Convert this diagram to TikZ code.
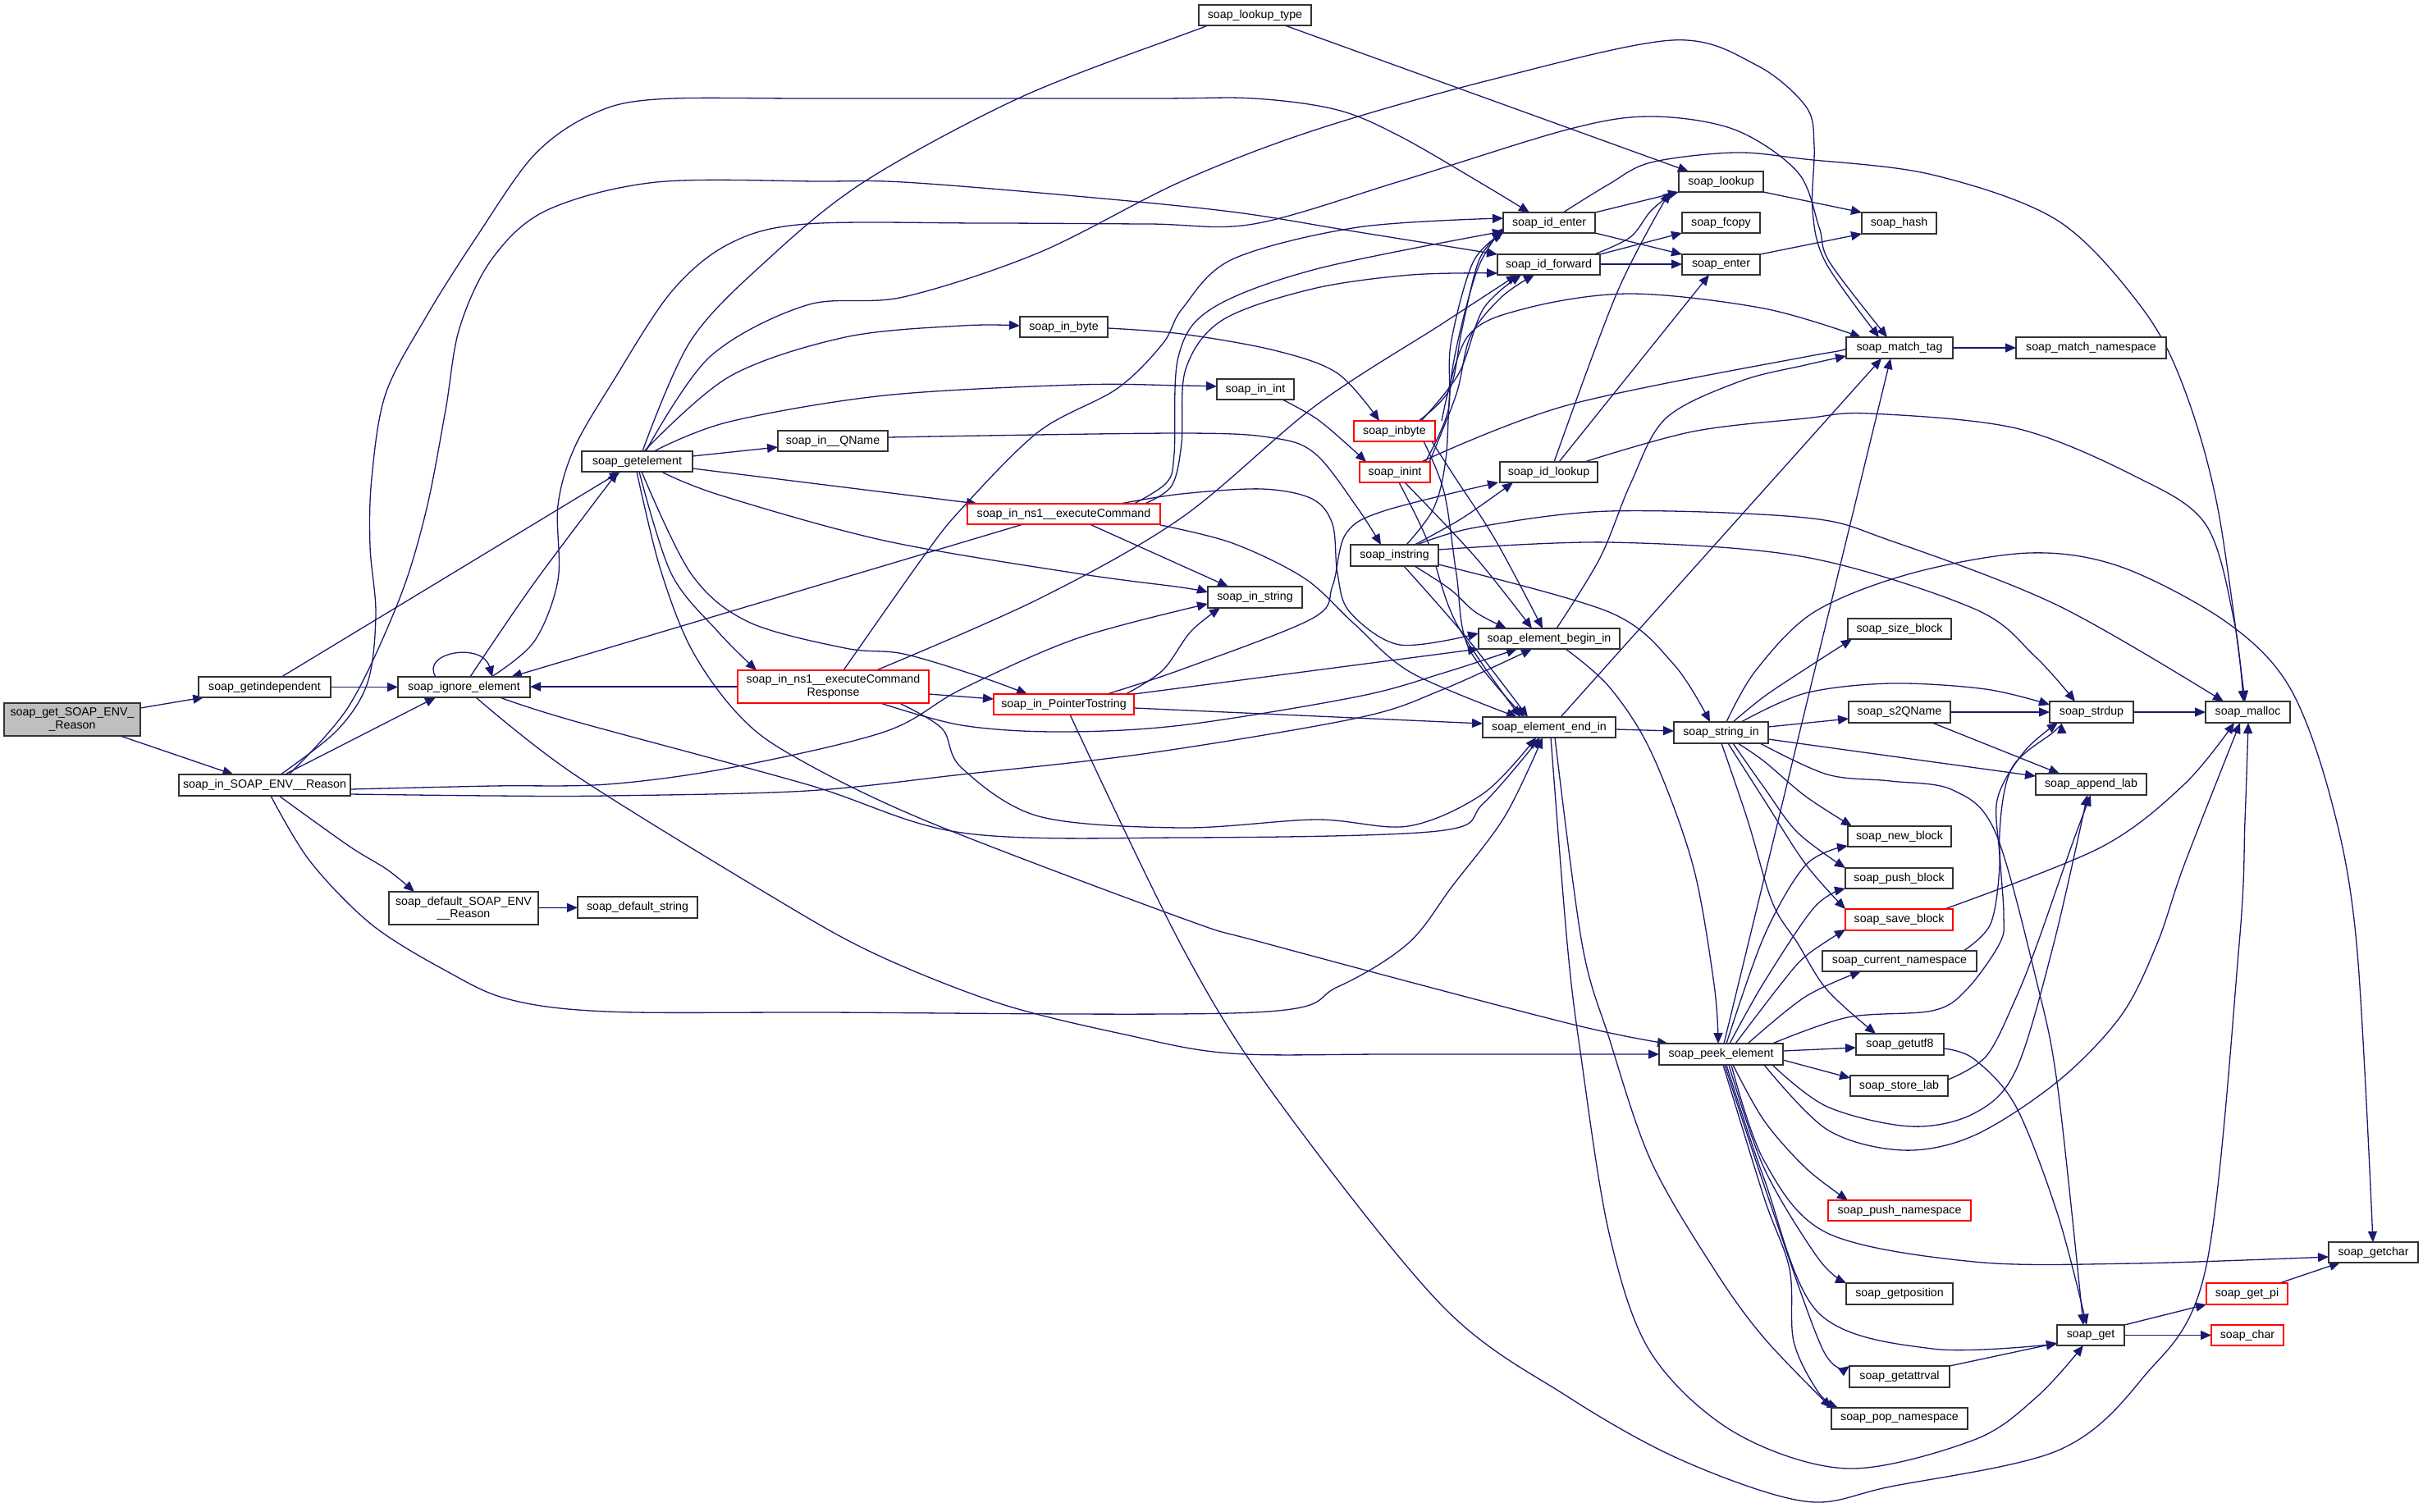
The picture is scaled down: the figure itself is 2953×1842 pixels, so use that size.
\documentclass[tikz,border=0pt]{standalone}
\usepackage{fontspec}
\setmainfont{Liberation Sans}
\usetikzlibrary{arrows.meta}
\definecolor{ec}{HTML}{191970}
\definecolor{nb}{HTML}{333333}
\definecolor{rb}{HTML}{FF0000}
\definecolor{gf}{HTML}{BFBFBF}
\pgfdeclarelayer{edges}
\pgfsetlayers{edges,main}
\newcommand\fs{\fontsize{7.1pt}{7.7pt}\selectfont}
\newcommand\fnode[7]{\node[fn,#2,minimum width={(#5-#3)*0.5pt},minimum height={(#6-#4)*0.5pt}] (#1) at ({(#3+#5)/2},{(#4+#6)/2}) {#7};}
\newcommand\ed[1]{\draw[e] plot[smooth,tension=0.55] coordinates {#1};}
\begin{document}
\begin{tikzpicture}[x=0.5pt,y=-0.5pt,
  fn/.style={draw=nb, fill=white, line width=0.8pt, inner sep=0pt, outer sep=0pt, font=\fs, align=center, text=black},
  rn/.style={draw=rb},
  gn/.style={fill=gf},
  pl/.style={},
  e/.style={draw=ec, line width=0.65pt, line join=round, -{Triangle[length=6.5pt,width=5.5pt]}}]
\useasboundingbox (0,0) rectangle (2953,1842);
% ---------------- nodes ----------------
\fnode{gse}{gn}{5}{857}{171}{897}{soap\_get\_SOAP\_ENV\_\\\_Reason}
\fnode{gind}{pl}{242}{825}{403}{850}{soap\_getindependent}
\fnode{ign}{pl}{485}{825}{646}{850}{soap\_ignore\_element}
\fnode{inenv}{pl}{218}{944}{427}{970}{soap\_in\_SOAP\_ENV\_\_Reason}
\fnode{defenv}{pl}{474}{1087}{656}{1127}{soap\_default\_SOAP\_ENV\\\_\_Reason}
\fnode{defstr}{pl}{704}{1093}{850}{1119}{soap\_default\_string}
\fnode{gel}{pl}{709}{550}{844}{575}{soap\_getelement}
\fnode{qname}{pl}{948}{525}{1082}{550}{soap\_in\_\_QName}
\fnode{inbyteT}{pl}{1243}{386}{1350}{411}{soap\_in\_byte}
\fnode{execC}{rn}{1179}{614}{1414}{639}{soap\_in\_ns1\_\_executeCommand}
\fnode{ecr}{rn}{899}{817}{1132}{857}{soap\_in\_ns1\_\_executeCommand\\Response}
\fnode{ptr}{rn}{1211}{846}{1382}{871}{soap\_in\_PointerTostring}
\fnode{ltype}{pl}{1461}{6}{1598}{31}{soap\_lookup\_type}
\fnode{lookup}{pl}{2046}{209}{2149}{234}{soap\_lookup}
\fnode{identer}{pl}{1832}{259}{1944}{284}{soap\_id\_enter}
\fnode{fcopy}{pl}{2050}{259}{2145}{284}{soap\_fcopy}
\fnode{idfwd}{pl}{1825}{310}{1950}{335}{soap\_id\_forward}
\fnode{enter}{pl}{2050}{310}{2145}{335}{soap\_enter}
\fnode{inintT}{pl}{1483}{462}{1577}{487}{soap\_in\_int}
\fnode{ibyte}{rn}{1650}{513}{1749}{538}{soap\_inbyte}
\fnode{iint}{rn}{1657}{563}{1743}{588}{soap\_inint}
\fnode{idlookup}{pl}{1828}{563}{1947}{588}{soap\_id\_lookup}
\fnode{istr}{pl}{1646}{664}{1753}{690}{soap\_instring}
\fnode{instrT}{pl}{1472}{715}{1587}{741}{soap\_in\_string}
\fnode{ebeg}{pl}{1802}{766}{1974}{791}{soap\_element\_begin\_in}
\fnode{eend}{pl}{1807}{874}{1969}{899}{soap\_element\_end\_in}
\fnode{strin}{pl}{2040}{880}{2155}{906}{soap\_string\_in}
\fnode{peek}{pl}{2022}{1272}{2173}{1298}{soap\_peek\_element}
\fnode{hash}{pl}{2269}{259}{2360}{285}{soap\_hash}
\fnode{mtag}{pl}{2250}{411}{2380}{437}{soap\_match\_tag}
\fnode{mns}{pl}{2457}{411}{2640}{437}{soap\_match\_namespace}
\fnode{sizeb}{pl}{2252}{754}{2378}{779}{soap\_size\_block}
\fnode{s2q}{pl}{2253}{855}{2377}{881}{soap\_s2QName}
\fnode{strdup}{pl}{2498}{855}{2600}{881}{soap\_strdup}
\fnode{malloc}{pl}{2688}{855}{2791}{881}{soap\_malloc}
\fnode{applab}{pl}{2481}{943}{2616}{969}{soap\_append\_lab}
\fnode{newb}{pl}{2252}{1007}{2378}{1032}{soap\_new\_block}
\fnode{pushb}{pl}{2249}{1058}{2380}{1083}{soap\_push\_block}
\fnode{saveb}{rn}{2249}{1108}{2380}{1134}{soap\_save\_block}
\fnode{curns}{pl}{2221}{1159}{2409}{1184}{soap\_current\_namespace}
\fnode{utf8}{pl}{2262}{1260}{2369}{1286}{soap\_getutf8}
\fnode{storelab}{pl}{2255}{1311}{2374}{1336}{soap\_store\_lab}
\fnode{pushns}{rn}{2228}{1463}{2402}{1488}{soap\_push\_namespace}
\fnode{getchar}{pl}{2838}{1514}{2947}{1539}{soap\_getchar}
\fnode{getpos}{pl}{2250}{1564}{2380}{1590}{soap\_getposition}
\fnode{getpi}{rn}{2689}{1564}{2788}{1590}{soap\_get\_pi}
\fnode{get}{pl}{2507}{1615}{2589}{1640}{soap\_get}
\fnode{chr}{rn}{2695}{1615}{2783}{1640}{soap\_char}
\fnode{getattr}{pl}{2254}{1665}{2376}{1691}{soap\_getattrval}
\fnode{popns}{pl}{2232}{1716}{2398}{1742}{soap\_pop\_namespace}
% ---------------- edges ----------------
\begin{pgfonlayer}{edges}
\draw[e] (gse) -- (gind);
\draw[e] (gse) -- (inenv);
\draw[e] (gind) -- (ign);
\draw[e] (gind) -- (gel);
\ed{(573,0 |- ign.north) (650,712) (753,0 |- gel.south)}
\draw[e] (531,0 |- ign.north) .. controls (512,795) and (588,782) .. (600,0 |- ign.north);
\draw[e] (347,0 |- inenv.north) -- (531,0 |- ign.south);
\draw[e] (ecr.west |- 0,837) -- (ign.east |- 0,837);
\draw[e] (1247,0 |- execC.south) -- (623,0 |- ign.north);
% soap_in_SOAP_ENV__Reason
\ed{(342,0 |- inenv.north) (411,890) (448,832) (458,749) (451,666) (453,583) (470,480) (520,385) (580,290) (650,190) (720,140) (800,121) (1000,120) (1400,120) (1528,120) (1630,134) (1706,166) (1808,225) (1864,0 |- identer.north)}
\ed{(352,0 |- inenv.north) (425,861) (486,732) (519,624) (543,500) (560,400) (600,315) (667,256) (800,222) (1000,221) (1101,222) (1300,238) (1500,258) (1650,282) (idfwd.north west)}
\ed{(inenv.east |- 0,962) (600,958) (740,956) (889,936) (1078,892) (1172,840) (1313,778) (instrT.west |- 0,736)}
\ed{(inenv.east |- 0,968) (600,970) (740,970) (983,964) (1172,944) (1400,918) (1655,875) (1757,841) (1867,0 |- ebeg.south)}
\ed{(330,0 |- inenv.south) (378,1050) (453,1127) (543,1183) (620,1218) (740,1233) (1000,1234) (1528,1234) (1630,1203) (1716,1150) (1770,1080) (1834,995) (1880,0 |- eend.south)}
\ed{(340,0 |- inenv.south) (425,1031) (472,1060) (505,0 |- defenv.north)}
\draw[e] (defenv) -- (defstr);
% soap_getelement
\ed{(783,0 |- gel.north) (842,415) (936,316) (1054,221) (1243,119) (1440,43) (1478,0 |- ltype.south)}
\ed{(787,0 |- gel.north) (865,435) (983,372) (1101,362) (1266,308) (1440,221) (1604,158) (1818,97) (2038,49) (2140,79) (2201,130) (2211,178) (2209,257) (2225,320) (2290,0 |- mtag.north)}
\ed{(806,0 |- gel.south) (879,604) (1078,659) (1313,699) (1440,716) (instrT.west |- 0,722)}
\draw[e] (gel.east |- 0,571) -- (1191,0 |- execC.north);
\draw[e] (gel.east |- 0,556) -- (qname.west |- 0,545);
\ed{(785,0 |- gel.north) (889,459) (1030,411) (1172,397) (inbyteT.west |- 0,397)}
\ed{(797,0 |- gel.north) (889,514) (1078,482) (1313,469) (1440,470) (inintT.west |- 0,471)}
\ed{(779,0 |- gel.south) (818,699) (875,770) (922,0 |- ecr.north)}
\ed{(782,0 |- gel.south) (842,699) (912,758) (1030,790) (1101,797) (1195,825) (1252,0 |- ptr.north)}
\ed{(776,0 |- gel.south) (804,691) (842,790) (898,869) (964,920) (1125,999) (1440,1119) (1543,1150) (1910,1247) (2033,0 |- peek.north)}
% soap_ignore_element
\ed{(599,0 |- ign.north) (651,782) (680,707) (680,616) (700,546) (747,465) (818,356) (889,297) (983,273) (1200,272) (1400,273) (1528,273) (1706,221) (1910,158) (2012,142) (2114,158) (2191,210) (2217,277) (2230,320) (2300,0 |- mtag.north)}
\ed{(609,0 |- ign.south) (700,879) (983,956) (1172,1015) (1440,1021) (1752,1013) (1808,979) (1877,0 |- eend.south)}
\ed{(580,0 |- ign.south) (700,944) (936,1090) (1065,1162) (1218,1223) (1371,1261) (1500,1284) (1700,1285) (peek.west |- 0,1285)}
% executeCommand
\draw[e] (1328,0 |- execC.south) -- (1497,0 |- instrT.north);
\ed{(execC.east |- 0,640) (1502,662) (1590,705) (1650,760) (1720,820) (1849,0 |- eend.north)}
\ed{(1365,0 |- execC.north) (1440,602) (1538,596) (1599,608) (1624,639) (1630,699) (1645,746) (1706,786) (ebeg.west |- 0,772)}
\ed{(1382,0 |- execC.north) (1422,588) (1431,553) (1436,435) (1477,376) (1604,328) (identer.west |- 0,282)}
\ed{(1395,0 |- execC.north) (1428,592) (1440,540) (1445,450) (1490,390) (1600,352) (1720,335) (idfwd.west |- 0,333)}
% executeCommandResponse
\ed{(1028,0 |- ecr.north) (1125,679) (1172,620) (1266,526) (1361,474) (1417,419) (1441,376) (1502,316) (1655,277) (identer.west |- 0,266)}
\ed{(1068,0 |- ecr.north) (1266,730) (1440,631) (1604,494) (1757,395) (1849,0 |- idfwd.south)}
\draw[e] (ecr.east |- 0,846) -- (ptr.west |- 0,852);
\ed{(1073,0 |- ecr.south) (1172,884) (1290,892) (1440,884) (1655,849) (1760,820) (1849,0 |- ebeg.south)}
\ed{(1096,0 |- ecr.south) (1148,888) (1172,936) (1266,995) (1440,1009) (1604,999) (1716,1007) (1808,967) (1872,0 |- eend.south)}
% PointerTostring
\ed{(1372,0 |- ptr.north) (1417,817) (1451,770) (1487,0 |- instrT.south)}
\ed{(1349,0 |- ptr.north) (1440,816) (1599,754) (1624,714) (1640,651) (1686,623) (1826,0 |- idlookup.south)}
\draw[e] (ptr.north east) -- (ebeg.south west);
\draw[e] (ptr.east |- 0,863) -- (eend.west |- 0,882);
\ed{(1304,0 |- ptr.south) (1440,1153) (1553,1335) (1757,1591) (1910,1702) (2050,1780) (2200,1830) (2304,1812) (2508,1768) (2611,1680) (2688,1547) (2729,1150) (2736,1000) (2740,0 |- malloc.south)}
% small callers
\ed{(qname.east |- 0,533) (1440,528) (1553,534) (1604,554) (1655,620) (1683,0 |- istr.north)}
\ed{(inbyteT.east |- 0,400) (1440,407) (1553,427) (1630,455) (1681,0 |- ibyte.north)}
\ed{(1563,0 |- inintT.south) (1604,510) (1640,540) (1665,0 |- iint.north)}
\draw[e] (1566,0 |- ltype.south) -- (2058,0 |- lookup.north);
\draw[e] (identer.north east) -- (lookup.south west);
\draw[e] (identer.south east) -- (enter.north west);
\ed{(1905,0 |- identer.north) (1960,225) (2012,198) (2114,186) (2200,194) (2355,213) (2508,269) (2611,376) (2662,474) (2703,620) (2736,0 |- malloc.north)}
\ed{(1943,0 |- idfwd.north) (1987,289) (2012,257) (2040,0 |- lookup.south)}
\draw[e] (idfwd.north east) -- (fcopy.south west);
\draw[e] (idfwd.east |- 0,322) -- (enter.west |- 0,322);
\ed{(1894,0 |- idlookup.north) (1971,356) (2035,0 |- lookup.south)}
\draw[e] (1900,0 |- idlookup.north) -- (2083,0 |- enter.south);
\ed{(1931,0 |- idlookup.north) (2063,526) (2200,510) (2278,504) (2457,522) (2601,580) (2688,639) (2723,758) (2734,0 |- malloc.north)}
\draw[e] (lookup.south east) -- (hash.north west);
\draw[e] (enter.north east) -- (hash.south west);
\draw[e] (mtag) -- (mns);
% inbyte / inint
\ed{(1729,0 |- ibyte.north) (1767,474) (1782,400) (1803,316) (identer.west |- 0,282)}
\ed{(1732,0 |- ibyte.north) (1778,455) (1808,376) (1854,0 |- idfwd.south)}
\ed{(1737,0 |- iint.north) (1765,500) (1768,420) (1795,320) (identer.south west)}
\ed{(1742,0 |- iint.north) (1775,480) (1792,410) (1830,362) (1870,0 |- idfwd.south)}
\ed{(1757,0 |- ibyte.north) (1788,411) (1859,376) (1987,358) (2150,376) (2268,0 |- mtag.north)}
\ed{(1732,0 |- iint.north) (1910,494) (2200,435) (mtag.west |- 0,429)}
\ed{(1745,0 |- ibyte.south) (1772,580) (1823,659) (1880,0 |- ebeg.north)}
\ed{(1712,0 |- iint.south) (1798,679) (1867,0 |- ebeg.north)}
\ed{(1735,0 |- ibyte.south) (1760,600) (1775,700) (1790,790) (1858,0 |- eend.north)}
\ed{(1705,0 |- iint.south) (1740,660) (1775,760) (1853,0 |- eend.north)}
% instring
\ed{(1711,0 |- istr.south) (1788,778) (1862,0 |- eend.north)}
\ed{(1724,0 |- istr.south) (1767,718) (1798,746) (1836,0 |- ebeg.north)}
\ed{(1714,0 |- istr.north) (1747,620) (1762,560) (1770,450) (1800,330) (identer.west |- 0,278)}
\ed{(1724,0 |- istr.north) (1783,631) (1844,0 |- idlookup.south)}
\ed{(istr.east |- 0,688) (1961,746) (2040,810) (2084,0 |- strin.north)}
\ed{(1727,0 |- istr.north) (1798,643) (1961,623) (2200,631) (2304,659) (2508,738) (2710,0 |- malloc.north)}
\ed{(istr.east |- 0,670) (1961,661) (2200,679) (2406,742) (2480,800) (2529,0 |- strdup.north)}
% element begin/end
\ed{(1897,0 |- ebeg.north) (1950,680) (1987,590) (2030,510) (2120,465) (2200,445) (mtag.west |- 0,434)}
\ed{(1908,0 |- ebeg.south) (1961,837) (2012,916) (2063,1054) (2089,1200) (2094,0 |- peek.north)}
\draw[e] (eend.east |- 0,889) -- (strin.west |- 0,891);
\draw[e] (1902,0 |- eend.north) -- (2293,0 |- mtag.south);
\ed{(1890,0 |- eend.south) (1910,1150) (1926,1282) (1961,1503) (2012,1649) (2114,1746) (2252,1790) (2406,1755) (2483,1702) (2539,0 |- get.south)}
\ed{(1895,0 |- eend.south) (1928,1150) (1961,1265) (2012,1415) (2089,1547) (2150,1631) (popns.north west)}
% string_in
\ed{(2112,0 |- strin.north) (2150,849) (2201,815) (2257,0 |- sizeb.south)}
\draw[e] (strin.east |- 0,886) -- (s2q.west |- 0,876);
\ed{(2122,0 |- strin.north) (2200,845) (2304,833) (2420,840) (strdup.west |- 0,859)}
\draw[e] (strin.east |- 0,901) -- (applab.west |- 0,946);
\ed{(2104,0 |- strin.north) (2140,817) (2211,746) (2329,699) (2473,674) (2585,691) (2713,758) (2790,837) (2841,975) (2872,1150) (2892,0 |- getchar.north)}
\ed{(2145,0 |- strin.south) (2227,944) (2304,952) (2380,963) (2432,1015) (2483,1200) (2508,1327) (2539,0 |- get.north)}
\ed{(2118,0 |- strin.south) (2150,928) (2201,971) (2257,0 |- newb.north)}
\ed{(2112,0 |- strin.south) (2150,960) (2191,1015) (pushb.north west)}
\ed{(2106,0 |- strin.south) (2150,975) (2201,1054) (saveb.north west)}
\ed{(2098,0 |- strin.south) (2130,1000) (2160,1100) (2191,1150) (2227,1207) (2286,0 |- utf8.north)}
% peek_element
\draw[e] (2101,0 |- peek.north) -- (2304,0 |- mtag.south);
\ed{(2104,0 |- peek.north) (2150,1141) (2201,1054) (newb.west |- 0,1031)}
\ed{(2108,0 |- peek.north) (2150,1197) (2211,1106) (pushb.west |- 0,1083)}
\ed{(2115,0 |- peek.north) (2170,1200) (2201,1165) (saveb.west |- 0,1133)}
\ed{(2130,0 |- peek.north) (2200,1215) (2268,0 |- curns.south)}
\ed{(2160,0 |- peek.north) (2252,1240) (2355,1232) (2396,1207) (2437,1150) (2442,1114) (2437,1015) (2452,936) (2503,892) (2512,0 |- strdup.south)}
\ed{(2160,0 |- peek.south) (2227,1349) (2329,1373) (2406,1357) (2457,1304) (2503,1150) (2544,0 |- applab.south)}
\ed{(2150,0 |- peek.south) (2227,1377) (2319,1402) (2406,1384) (2508,1318) (2585,1238) (2629,1150) (2662,1054) (2730,0 |- malloc.south)}
\draw[e] (peek.east |- 0,1292) -- (storelab.west |- 0,1314);
\draw[e] (peek.east |- 0,1281) -- (utf8.west |- 0,1277);
\ed{(2112,0 |- peek.south) (2150,1366) (2201,1424) (2252,0 |- pushns.north)}
\ed{(2110,0 |- peek.south) (2150,1415) (2227,1503) (2406,1538) (2600,1540) (getchar.west |- 0,1532)}
\ed{(2107,0 |- peek.south) (2150,1424) (2216,1534) (getpos.north west)}
\ed{(2104,0 |- peek.south) (2150,1437) (2216,1600) (2355,1644) (get.west |- 0,1638)}
\ed{(2102,0 |- peek.south) (2150,1445) (2221,1644) (getattr.north west)}
\ed{(2100,0 |- peek.south) (2150,1460) (2181,1547) (2186,1635) (2216,1697) (2240,0 |- popns.north)}
% leaves
\ed{(utf8.east |- 0,1278) (2406,1291) (2457,1349) (2508,1481) (2543,0 |- get.north)}
\draw[e] (getattr.north east) -- (get.west |- 0,1637);
\draw[e] (get.north east) -- (getpi.south west);
\draw[e] (get) -- (chr);
\draw[e] (2778,0 |- getpi.north) -- (2852,0 |- getchar.south);
\draw[e] (s2q) -- (strdup);
\draw[e] (2355,0 |- s2q.south) -- (2510,0 |- applab.north);
\draw[e] (strdup) -- (malloc);
\ed{(2370,0 |- saveb.north) (2560,1033) (2662,956) (2723,0 |- malloc.south)}
\ed{(2393,0 |- curns.north) (2426,1126) (2437,1054) (2434,975) (2467,916) (2508,0 |- strdup.south)}
\ed{(storelab.east |- 0,1316) (2421,1287) (2457,1216) (2483,1150) (2525,1030) (2548,0 |- applab.south)}
\end{pgfonlayer}
\end{tikzpicture}
\end{document}
